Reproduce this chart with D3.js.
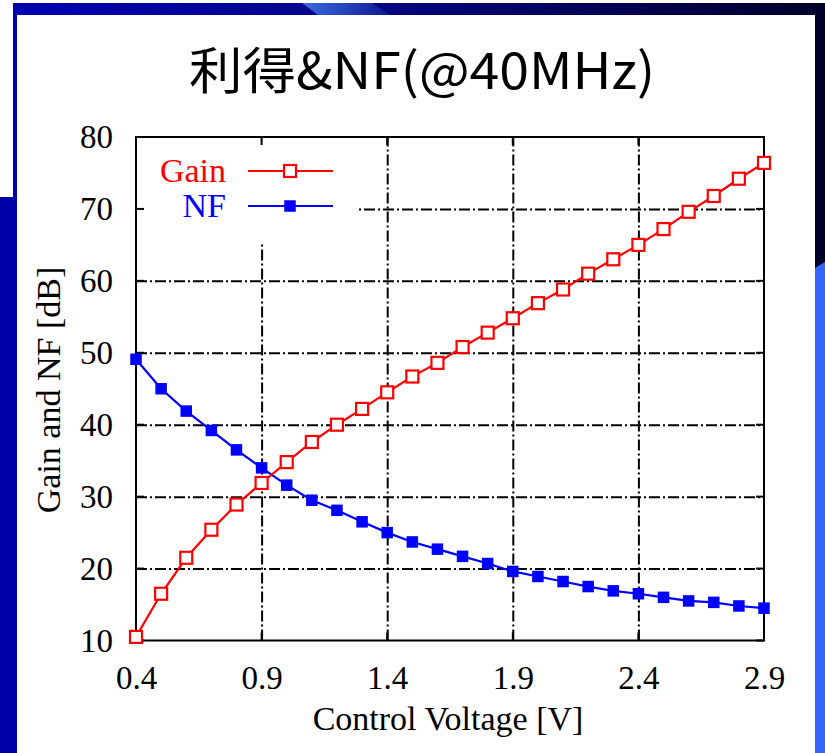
<!DOCTYPE html>
<meta charset="utf-8">
<style>
body { margin: 0; background: #fff; }
.grid line { stroke: #000; stroke-width: 2; stroke-dasharray: 11,3,2,3; }
.grid path { display: none; }
.tick-lab text { font-family: "Liberation Serif", serif; font-size: 33px; fill: #000; }
.tick-lab path, .tick-lab line { display: none; }
.gain { fill: none; stroke: #ff0000; stroke-width: 2.2; }
.nf { fill: none; stroke: #0000ff; stroke-width: 2.2; }
.dot-gain { fill: #fff; stroke: #ff0000; stroke-width: 2.2; }
.dot-nf { fill: #0000ff; stroke: #0000ff; stroke-width: 1.5; }
</style>
<div id="chart"></div>
<script src="https://d3js.org/d3.v7.min.js"></script>
<script>

// control voltage [V], 0.4 .. 2.9 in 0.1 steps
var volts = [0.4, 0.5, 0.6, 0.7, 0.8, 0.9, 1.0, 1.1, 1.2, 1.3, 1.4, 1.5, 1.6,
             1.7, 1.8, 1.9, 2.0, 2.1, 2.2, 2.3, 2.4, 2.5, 2.6, 2.7, 2.8, 2.9];
var gain = [10.5, 16.5, 21.5, 25.4, 28.9, 31.9, 34.8, 37.6, 40.0, 42.2, 44.5, 46.7, 48.6,
            50.8, 52.8, 54.8, 56.9, 58.8, 61.0, 63.0, 65.0, 67.2, 69.6, 71.8, 74.2, 76.4];
var nf = [49.1, 45.0, 41.9, 39.2, 36.5, 34.0, 31.6, 29.5, 28.1, 26.5, 25.0, 23.7, 22.7,
          21.7, 20.7, 19.6, 18.9, 18.2, 17.5, 16.9, 16.5, 16.0, 15.5, 15.3, 14.8, 14.5];

var xTicks = [0.4, 0.9, 1.4, 1.9, 2.4, 2.9];
var xTickLabels = ["0.4", "0.9", "1.4", "1.9", "2.4", "2.9"];
var yTicks = [10, 20, 30, 40, 50, 60, 70, 80];
var yTickLabels = ["10", "20", "30", "40", "50", "60", "70", "80"];
var seriesNames = ["Gain", "NF"];

var title = "利得&NF(@40MHz)";
var xTitle = "Control Voltage [V]";
var yTitle = "Gain and NF [dB]";

var W = 825, H = 753;
var plot = {left: 136, right: 764, top: 137, bottom: 640.5};

var svg = d3.select("#chart").append("svg")
    .attr("width", W).attr("height", H)
    .style("display", "block");

// --- slide background bits ---
var defs = svg.append("defs");
var band = defs.append("linearGradient").attr("id", "band");
band.append("stop").attr("offset", "0%").attr("stop-color", "#0000b0");
band.append("stop").attr("offset", "40%").attr("stop-color", "#06068a");
band.append("stop").attr("offset", "100%").attr("stop-color", "#00002a");
var streak = defs.append("linearGradient").attr("id", "streak");
streak.append("stop").attr("offset", "0%").attr("stop-color", "#3c6ae0");
streak.append("stop").attr("offset", "100%").attr("stop-color", "#0c1890");

svg.append("rect").attr("x", 0).attr("y", 0).attr("width", W).attr("height", H).attr("fill", "#fff");
svg.append("rect").attr("x", 13).attr("y", 3).attr("width", W - 13).attr("height", 12).attr("fill", "url(#band)");
svg.append("polygon").attr("points", "302,3 372,3 390,15 318,15").attr("fill", "url(#streak)");
svg.append("rect").attr("x", 13).attr("y", 3).attr("width", 4).attr("height", 195).attr("fill", "#0000aa");
svg.append("rect").attr("x", 0).attr("y", 197).attr("width", 17).attr("height", H - 197).attr("fill", "#0000aa");
svg.append("rect").attr("x", 815).attr("y", 3).attr("width", 10).attr("height", 270).attr("fill", "#00002a");
svg.append("polygon").attr("points", "815,268 825,262 825,753 815,753").attr("fill", "#3366ff");

// --- scales ---
var x = d3.scaleLinear().domain([0.4, 2.9]).range([plot.left, plot.right]);
var y = d3.scaleLinear().domain([10, 80]).range([plot.bottom, plot.top]);

// --- grid ---
svg.append("g").attr("class", "grid")
    .attr("transform", "translate(0," + plot.bottom + ")")
    .call(d3.axisBottom(x).tickValues(xTicks.slice(1, -1))
        .tickSize(-(plot.bottom - plot.top)).tickFormat(""));
svg.append("g").attr("class", "grid")
    .attr("transform", "translate(" + plot.left + ",0)")
    .call(d3.axisLeft(y).tickValues(yTicks.slice(1, -1))
        .tickSize(-(plot.right - plot.left)).tickFormat(""));

// key area hides the grid
svg.append("rect")
    .attr("x", plot.left + 1).attr("y", plot.top + 1)
    .attr("width", 220).attr("height", 104)
    .attr("fill", "#fff");

// inward ticks on all four borders
var tk = svg.append("g").attr("stroke", "#000").attr("stroke-width", 2);
xTicks.forEach(function(v) {
  tk.append("line").attr("x1", x(v)).attr("x2", x(v)).attr("y1", plot.bottom).attr("y2", plot.bottom - 8);
  tk.append("line").attr("x1", x(v)).attr("x2", x(v)).attr("y1", plot.top).attr("y2", plot.top + 8);
});
yTicks.forEach(function(v) {
  tk.append("line").attr("x1", plot.left).attr("x2", plot.left + 8).attr("y1", y(v)).attr("y2", y(v));
  tk.append("line").attr("x1", plot.right).attr("x2", plot.right - 8).attr("y1", y(v)).attr("y2", y(v));
});

svg.append("rect")
    .attr("x", plot.left).attr("y", plot.top)
    .attr("width", plot.right - plot.left).attr("height", plot.bottom - plot.top)
    .attr("fill", "none").attr("stroke", "#000").attr("stroke-width", 2);

// --- tick labels ---
svg.append("g").attr("class", "tick-lab")
    .attr("transform", "translate(0," + plot.bottom + ")")
    .call(d3.axisBottom(x).tickValues(xTicks).tickSize(0).tickPadding(25)
        .tickFormat(function(d, i) { return xTickLabels[i]; }));
svg.append("g").attr("class", "tick-lab")
    .attr("transform", "translate(" + plot.left + ",0)")
    .call(d3.axisLeft(y).tickValues(yTicks).tickSize(0).tickPadding(23)
        .tickFormat(function(d, i) { return yTickLabels[i]; }));

// --- series ---
var line = d3.line()
    .x(function(d) { return x(d.v); })
    .y(function(d) { return y(d.val); });

var gainPts = volts.map(function(v, i) { return {v: v, val: gain[i]}; });
var nfPts = volts.map(function(v, i) { return {v: v, val: nf[i]}; });

svg.append("path").datum(nfPts).attr("class", "nf").attr("d", line);
svg.selectAll(".dot-nf")
    .data(nfPts)
  .enter().append("rect")
    .attr("class", "dot-nf")
    .attr("x", function(d) { return x(d.v) - 5; })
    .attr("y", function(d) { return y(d.val) - 5; })
    .attr("width", 10).attr("height", 10);

svg.append("path").datum(gainPts).attr("class", "gain").attr("d", line);
svg.selectAll(".dot-gain")
    .data(gainPts)
  .enter().append("rect")
    .attr("class", "dot-gain")
    .attr("x", function(d) { return x(d.v) - 6; })
    .attr("y", function(d) { return y(d.val) - 6; })
    .attr("width", 12).attr("height", 12);

// --- key ---
var keyCls = ["gain", "nf"];
var keyColor = ["#ff0000", "#0000ff"];
seriesNames.forEach(function(name, i) {
  var ky = 171 + i * 35;
  svg.append("text")
      .attr("x", 226).attr("y", ky + 11)
      .attr("text-anchor", "end")
      .style("font-family", "Liberation Serif, serif")
      .style("font-size", "34px")
      .attr("fill", keyColor[i])
      .text(name);
  svg.append("line")
      .attr("class", keyCls[i])
      .attr("x1", 248).attr("x2", 333).attr("y1", ky).attr("y2", ky);
  if (i === 0) {
    svg.append("rect").attr("class", "dot-gain")
        .attr("x", 284).attr("y", ky - 6).attr("width", 12).attr("height", 12);
  } else {
    svg.append("rect").attr("class", "dot-nf")
        .attr("x", 285).attr("y", ky - 5).attr("width", 10).attr("height", 10);
  }
});

// --- titles ---
svg.append("text")
    .attr("x", 422).attr("y", 89)
    .attr("text-anchor", "middle")
    .attr("textLength", 466).attr("lengthAdjust", "spacingAndGlyphs")
    .style("font-family", "Noto Sans CJK JP, sans-serif")
    .style("font-size", "50px")
    .attr("fill", "#000")
    .text(title);

svg.append("text")
    .attr("x", 448).attr("y", 730)
    .attr("text-anchor", "middle")
    .style("font-family", "Liberation Serif, serif")
    .style("font-size", "34px")
    .attr("fill", "#000")
    .text(xTitle);

svg.append("text")
    .attr("transform", "translate(60,390) rotate(-90)")
    .attr("text-anchor", "middle")
    .style("font-family", "Liberation Serif, serif")
    .style("font-size", "34px")
    .attr("fill", "#000")
    .text(yTitle);
</script>
